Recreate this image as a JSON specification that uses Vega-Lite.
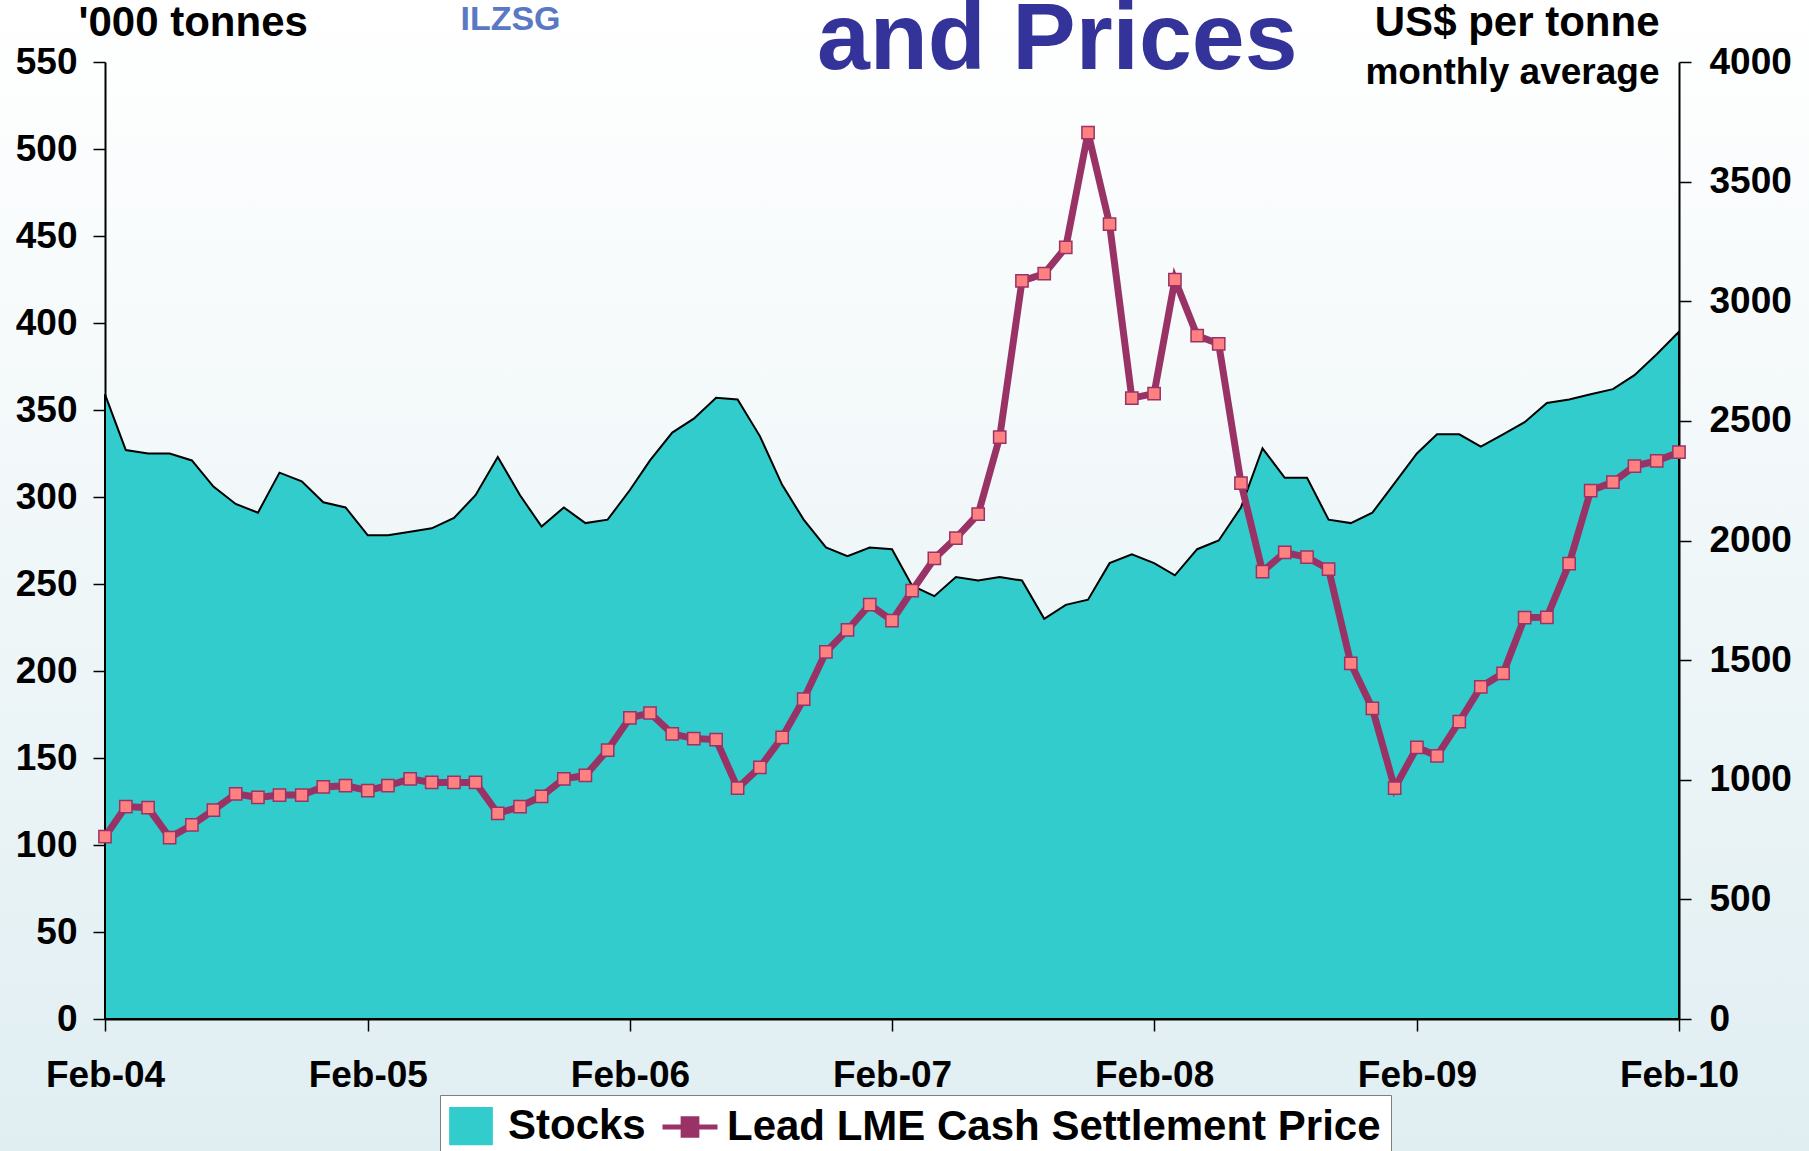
{
  "$schema": "https://vega.github.io/schema/vega-lite/v6.json",
  "width": 1809,
  "height": 1151,
  "autosize": {"type": "none"},
  "padding": 0,
  "background": "#ffffff",
  "config": {
    "font": "Liberation Sans",
    "view": {
      "stroke": null,
      "fill": {"gradient": "linear", "x1": 0, "y1": 0, "x2": 0, "y2": 1, "stops": [{"offset": 0, "color": "#ffffff"}, {"offset": 1, "color": "#e0eef2"}]}
    },
    "axis": {
      "labelFont": "Liberation Sans", "labelFontSize": 37, "labelFontWeight": "bold", "labelColor": "#000000",
      "titleFont": "Liberation Sans", "titleFontWeight": "bold", "titleColor": "#000000",
      "tickColor": "#000000", "tickWidth": 1.5, "tickSize": 12,
      "domainColor": "#000000", "domainWidth": 2, "grid": false,
      "labelOverlap": false, "labelBound": false, "labelFlush": false
    },
    "legend": {
      "orient": "none", "legendX": 440, "legendY": 1095, "direction": "horizontal",
      "fillColor": "#ffffff", "strokeColor": "#7f7f7f", "padding": 10,
      "labelFont": "Liberation Sans", "labelFontSize": 42, "labelFontWeight": "bold", "labelColor": "#000000",
      "labelLimit": 1000, "labelOffset": 16, "columnPadding": 6, "symbolSize": 3025, "symbolType": "square"
    }
  },
  "title": {
    "text": "and Prices", "anchor": "start", "frame": "group", "dx": 817, "dy": 89,
    "fontSize": 95, "font": "Liberation Sans", "fontWeight": "bold", "color": "#333399", "offset": 0
  },
  "data": {"values": [
    {"date": "2004-02-01", "stocks": 359, "price": 762},
    {"date": "2004-03-01", "stocks": 327, "price": 888},
    {"date": "2004-04-01", "stocks": 325, "price": 883},
    {"date": "2004-05-01", "stocks": 325, "price": 758},
    {"date": "2004-06-01", "stocks": 321, "price": 811},
    {"date": "2004-07-01", "stocks": 306, "price": 873},
    {"date": "2004-08-01", "stocks": 296, "price": 941},
    {"date": "2004-09-01", "stocks": 291, "price": 926},
    {"date": "2004-10-01", "stocks": 314, "price": 936},
    {"date": "2004-11-01", "stocks": 309, "price": 936},
    {"date": "2004-12-01", "stocks": 297, "price": 970},
    {"date": "2005-01-01", "stocks": 294, "price": 975},
    {"date": "2005-02-01", "stocks": 278, "price": 955},
    {"date": "2005-03-01", "stocks": 278, "price": 975},
    {"date": "2005-04-01", "stocks": 280, "price": 1004},
    {"date": "2005-05-01", "stocks": 282, "price": 989},
    {"date": "2005-06-01", "stocks": 288, "price": 989},
    {"date": "2005-07-01", "stocks": 301, "price": 989},
    {"date": "2005-08-01", "stocks": 323, "price": 859},
    {"date": "2005-09-01", "stocks": 301, "price": 888},
    {"date": "2005-10-01", "stocks": 283, "price": 931},
    {"date": "2005-11-01", "stocks": 294, "price": 1004},
    {"date": "2005-12-01", "stocks": 285, "price": 1018},
    {"date": "2006-01-01", "stocks": 287, "price": 1124},
    {"date": "2006-02-01", "stocks": 304, "price": 1259},
    {"date": "2006-03-01", "stocks": 321, "price": 1279},
    {"date": "2006-04-01", "stocks": 337, "price": 1192},
    {"date": "2006-05-01", "stocks": 345, "price": 1172},
    {"date": "2006-06-01", "stocks": 357, "price": 1168},
    {"date": "2006-07-01", "stocks": 356, "price": 965},
    {"date": "2006-08-01", "stocks": 335, "price": 1052},
    {"date": "2006-09-01", "stocks": 307, "price": 1177},
    {"date": "2006-10-01", "stocks": 287, "price": 1337},
    {"date": "2006-11-01", "stocks": 271, "price": 1534},
    {"date": "2006-12-01", "stocks": 266, "price": 1626},
    {"date": "2007-01-01", "stocks": 271, "price": 1732},
    {"date": "2007-02-01", "stocks": 270, "price": 1665},
    {"date": "2007-03-01", "stocks": 249, "price": 1790},
    {"date": "2007-04-01", "stocks": 243, "price": 1925},
    {"date": "2007-05-01", "stocks": 254, "price": 2010},
    {"date": "2007-06-01", "stocks": 252, "price": 2110},
    {"date": "2007-07-01", "stocks": 254, "price": 2432},
    {"date": "2007-08-01", "stocks": 252, "price": 3085},
    {"date": "2007-09-01", "stocks": 230, "price": 3115},
    {"date": "2007-10-01", "stocks": 238, "price": 3225},
    {"date": "2007-11-01", "stocks": 241, "price": 3705},
    {"date": "2007-12-01", "stocks": 262, "price": 3322},
    {"date": "2008-01-01", "stocks": 267, "price": 2595},
    {"date": "2008-02-01", "stocks": 262, "price": 2614},
    {"date": "2008-03-01", "stocks": 255, "price": 3090},
    {"date": "2008-04-01", "stocks": 270, "price": 2856},
    {"date": "2008-05-01", "stocks": 275, "price": 2822},
    {"date": "2008-06-01", "stocks": 294, "price": 2240},
    {"date": "2008-07-01", "stocks": 328, "price": 1870},
    {"date": "2008-08-01", "stocks": 311, "price": 1950},
    {"date": "2008-09-01", "stocks": 311, "price": 1930},
    {"date": "2008-10-01", "stocks": 287, "price": 1880},
    {"date": "2008-11-01", "stocks": 285, "price": 1486},
    {"date": "2008-12-01", "stocks": 291, "price": 1298},
    {"date": "2009-01-01", "stocks": 308, "price": 965},
    {"date": "2009-02-01", "stocks": 325, "price": 1135},
    {"date": "2009-03-01", "stocks": 336, "price": 1100},
    {"date": "2009-04-01", "stocks": 336, "price": 1243},
    {"date": "2009-05-01", "stocks": 329, "price": 1388},
    {"date": "2009-06-01", "stocks": 336, "price": 1445},
    {"date": "2009-07-01", "stocks": 343, "price": 1678},
    {"date": "2009-08-01", "stocks": 354, "price": 1679},
    {"date": "2009-09-01", "stocks": 356, "price": 1903},
    {"date": "2009-10-01", "stocks": 359, "price": 2208},
    {"date": "2009-11-01", "stocks": 362, "price": 2244},
    {"date": "2009-12-01", "stocks": 370, "price": 2311},
    {"date": "2010-01-01", "stocks": 382, "price": 2333},
    {"date": "2010-02-01", "stocks": 395, "price": 2369}
  ]},
  "encoding": {
    "x": {
      "field": "date", "type": "temporal",
      "scale": {"type": "utc", "nice": false, "range": [105, 1679], "domain": [{"year": 2004, "month": 2, "date": 1, "utc": true}, {"year": 2010, "month": 2, "date": 1, "utc": true}]},
      "axis": {
        "orient": "bottom", "offset": -132,
        "labelExpr": "utcFormat(datum.value, '%b-%y')", "labelPadding": 26,
        "title": "monthly average", "titleAngle": 0, "titleAlign": "right", "titleBaseline": "alphabetic",
        "titleX": 1659, "titleY": -936, "titleFontSize": 37,
        "values": [
          {"year": 2004, "month": 2, "date": 1, "utc": true},
          {"year": 2005, "month": 2, "date": 1, "utc": true},
          {"year": 2006, "month": 2, "date": 1, "utc": true},
          {"year": 2007, "month": 2, "date": 1, "utc": true},
          {"year": 2008, "month": 2, "date": 1, "utc": true},
          {"year": 2009, "month": 2, "date": 1, "utc": true},
          {"year": 2010, "month": 2, "date": 1, "utc": true}
        ]
      }
    }
  },
  "layer": [
    {
      "mark": {"type": "area", "stroke": "#000000", "strokeWidth": 2, "opacity": 1, "fillOpacity": 1},
      "encoding": {
        "y": {
          "field": "stocks", "type": "quantitative",
          "scale": {"domain": [0, 550], "nice": false, "zero": true, "range": [1019, 62]},
          "axis": {
            "orient": "left", "offset": -105, "values": [0, 50, 100, 150, 200, 250, 300, 350, 400, 450, 500, 550],
            "labelPadding": 16, "title": "'000 tonnes", "titleAngle": 0, "titleAlign": "left",
            "titleBaseline": "alphabetic", "titleX": -27, "titleY": 35, "titleFontSize": 42
          }
        },
        "color": {
          "datum": "Stocks",
          "scale": {"domain": ["Stocks", "Lead LME Cash Settlement Price"], "range": ["#33cccc", "#993366"]},
          "legend": {
            "title": null,
            "encode": {
              "symbols": {
                "update": {
                  "shape": {"signal": "datum.value === 'Stocks' ? 'M-0.75,-0.65H0.75V0.65H-0.75Z' : 'M-1,0H1M-0.25,-0.3H0.25V0.3H-0.25Z'"},
                  "fill": {"signal": "datum.value === 'Stocks' ? '#33cccc' : '#ff8080'"},
                  "stroke": {"signal": "datum.value === 'Stocks' ? '#000000' : '#993366'"},
                  "strokeWidth": {"signal": "datum.value === 'Stocks' ? 2.5 : 5"},
                  "opacity": {"value": 1}
                },
                "shape": {"condition": {"test": "datum.value === 'Stocks'", "value": "M-0.75,-0.65H0.75V0.65H-0.75Z"}, "value": "M-1,0H1M-0.25,-0.3H0.25V0.3H-0.25Z"},
                "fill": {"condition": {"test": "datum.value === 'Stocks'", "value": "#33cccc"}, "value": "#ff8080"},
                "stroke": {"condition": {"test": "datum.value === 'Stocks'", "value": "#000000"}, "value": "#993366"},
                "strokeWidth": {"condition": {"test": "datum.value === 'Stocks'", "value": 2.5}, "value": 5},
                "opacity": {"value": 1}
              }
            }
          }
        }
      }
    },
    {
      "mark": {"type": "line", "strokeWidth": 7},
      "encoding": {
        "y": {
          "field": "price", "type": "quantitative",
          "scale": {"domain": [0, 4000], "nice": false, "range": [1019, 62]},
          "axis": {
            "orient": "right", "offset": -130, "values": [0, 500, 1000, 1500, 2000, 2500, 3000, 3500, 4000], "format": "d",
            "labelPadding": 18, "title": "US$ per tonne", "titleAngle": 0, "titleAlign": "right",
            "titleBaseline": "alphabetic", "titleX": -20, "titleY": 35, "titleFontSize": 42
          }
        },
        "color": {
          "datum": "Lead LME Cash Settlement Price",
          "legend": {
            "title": null,
            "encode": {
              "symbols": {
                "update": {
                  "shape": {"signal": "datum.value === 'Stocks' ? 'M-0.75,-0.65H0.75V0.65H-0.75Z' : 'M-1,0H1M-0.25,-0.3H0.25V0.3H-0.25Z'"},
                  "fill": {"signal": "datum.value === 'Stocks' ? '#33cccc' : '#ff8080'"},
                  "stroke": {"signal": "datum.value === 'Stocks' ? '#000000' : '#993366'"},
                  "strokeWidth": {"signal": "datum.value === 'Stocks' ? 2.5 : 5"},
                  "opacity": {"value": 1}
                },
                "shape": {"condition": {"test": "datum.value === 'Stocks'", "value": "M-0.75,-0.65H0.75V0.65H-0.75Z"}, "value": "M-1,0H1M-0.25,-0.3H0.25V0.3H-0.25Z"},
                "fill": {"condition": {"test": "datum.value === 'Stocks'", "value": "#33cccc"}, "value": "#ff8080"},
                "stroke": {"condition": {"test": "datum.value === 'Stocks'", "value": "#000000"}, "value": "#993366"},
                "strokeWidth": {"condition": {"test": "datum.value === 'Stocks'", "value": 2.5}, "value": 5},
                "opacity": {"value": 1}
              }
            }
          }
        }
      }
    },
    {
      "mark": {"type": "point", "shape": "square", "filled": true, "fill": "#ff8080", "stroke": "#993366", "strokeWidth": 1.5, "size": 150, "opacity": 1},
      "encoding": {
        "y": {
          "field": "price", "type": "quantitative",
          "scale": {"domain": [0, 4000], "nice": false, "range": [1019, 62]},
          "axis": {
            "orient": "left", "offset": -105, "labels": false, "ticks": false, "domain": false, "grid": false,
            "title": "ILZSG", "titleAngle": 0, "titleAlign": "center", "titleBaseline": "alphabetic",
            "titleX": 405, "titleY": 29, "titleFontSize": 34, "titleColor": "#5b78c4"
          }
        }
      }
    }
  ],
  "resolve": {"scale": {"y": "independent"}}
}
